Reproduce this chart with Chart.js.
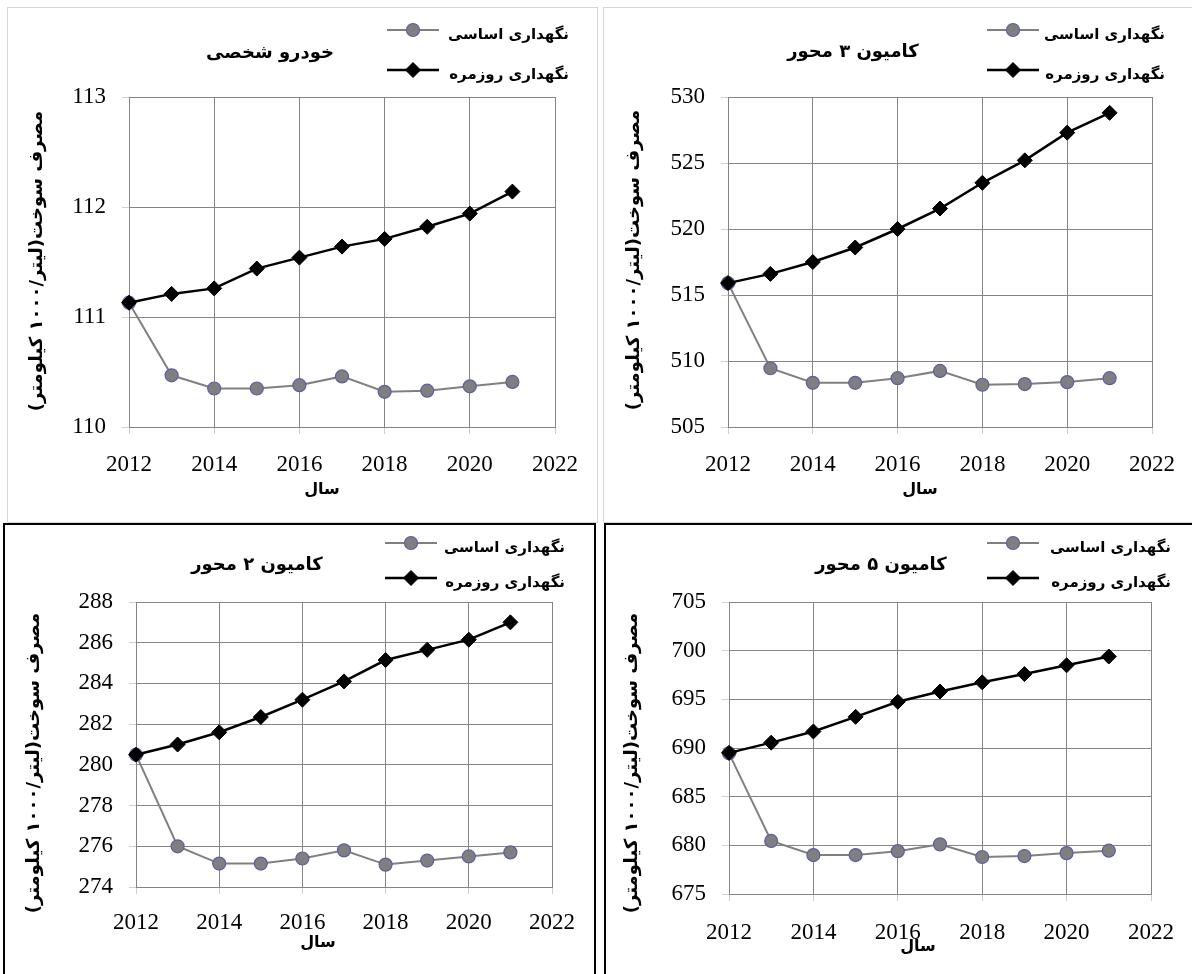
<!DOCTYPE html>
<html>
<head>
<meta charset="utf-8">
<script src="https://cdn.jsdelivr.net/npm/chart.js@4/dist/chart.umd.min.js"></script>
<style>
  body { margin: 0; background: #fff; width: 1192px; height: 974px; overflow: hidden; position: relative; }
  .frame { position: absolute; box-sizing: border-box; }
  .frame.light { border: 1px solid #d6d6d6; }
  .frame.dark { border: 2px solid #000; }
  canvas { position: absolute; }
</style>
</head>
<body>
<div class="frame light" style="left:7px;top:7px;width:591px;height:516px"></div>
<div class="frame light" style="left:603px;top:7px;width:600px;height:516px"></div>
<div class="frame dark" style="left:3px;top:523px;width:593px;height:470px"></div>
<div class="frame dark" style="left:604px;top:523px;width:600px;height:470px"></div>

<canvas id="carChart" width="588" height="513" style="left:8px;top:8px"></canvas>
<canvas id="truck3Chart" width="588" height="513" style="left:604px;top:8px"></canvas>
<canvas id="truck2Chart" width="587" height="448" style="left:6px;top:526px"></canvas>
<canvas id="truck5Chart" width="586" height="448" style="left:606px;top:526px"></canvas>

<script>
// سال ها
const years = [2012, 2013, 2014, 2015, 2016, 2017, 2018, 2019, 2020, 2021];
const yearTicks = [2012, 2014, 2016, 2018, 2020, 2022];

const seriesNames = ["نگهداری اساسی", "نگهداری روزمره"];
const axisTitle = "مصرف سوخت(لیتر/۱۰۰۰ کیلومتر)";
const xTitle = "سال";

// خودرو شخصی
const carBasic = [111.13, 110.47, 110.35, 110.35, 110.38, 110.46, 110.32, 110.33, 110.37, 110.41];
const carRoutine = [111.13, 111.21, 111.26, 111.44, 111.54, 111.64, 111.71, 111.82, 111.94, 112.14];
const carTicks = [110, 111, 112, 113];

// کامیون ۳ محور
const truck3Basic = [515.9, 509.45, 508.35, 508.35, 508.7, 509.25, 508.2, 508.25, 508.4, 508.7];
const truck3Routine = [515.9, 516.6, 517.5, 518.6, 520.0, 521.55, 523.5, 525.2, 527.3, 528.8];
const truck3Ticks = [505, 510, 515, 520, 525, 530];

// کامیون ۲ محور
const truck2Basic = [280.5, 276.0, 275.15, 275.15, 275.4, 275.8, 275.1, 275.3, 275.5, 275.7];
const truck2Routine = [280.5, 281.0, 281.6, 282.35, 283.2, 284.1, 285.15, 285.65, 286.15, 287.0];
const truck2Ticks = [274, 276, 278, 280, 282, 284, 286, 288];

// کامیون ۵ محور
const truck5Basic = [689.45, 680.45, 679.0, 679.0, 679.4, 680.1, 678.8, 678.9, 679.2, 679.45];
const truck5Routine = [689.5, 690.55, 691.7, 693.2, 694.75, 695.8, 696.75, 697.6, 698.5, 699.4];
const truck5Ticks = [675, 680, 685, 690, 695, 700, 705];

const persianFont = '"DejaVu Sans", sans-serif';

// عنوان، راهنما و عنوان محورها
const panelText = {
  id: "panelText",
  afterDraw(chart, args, opts) {
    const ctx = chart.ctx;
    ctx.save();
    ctx.direction = "rtl";
    ctx.fillStyle = "#000";
    ctx.textBaseline = "middle";
    ctx.textAlign = "center";

    ctx.font = "bold 18px " + persianFont;
    ctx.fillText(opts.title, opts.titleX, opts.titleY);

    ctx.font = "bold 16px " + persianFont;
    ctx.fillText(xTitle, opts.xTitleX, opts.xTitleY);

    ctx.save();
    ctx.translate(opts.yTitleX, opts.yTitleY);
    ctx.rotate(-Math.PI / 2);
    ctx.font = "bold 18px " + persianFont;
    ctx.fillText(axisTitle, 0, 0);
    ctx.restore();

    chart.data.datasets.forEach((ds, i) => {
      const y = opts.legendY[i];
      ctx.strokeStyle = ds.borderColor;
      ctx.lineWidth = ds.borderWidth;
      ctx.beginPath();
      ctx.moveTo(opts.legendX, y);
      ctx.lineTo(opts.legendX + 52, y);
      ctx.stroke();
      ctx.fillStyle = ds.pointBackgroundColor;
      ctx.strokeStyle = ds.pointBorderColor;
      ctx.lineWidth = ds.pointBorderWidth;
      Chart.helpers.drawPoint(ctx, {
        pointStyle: ds.pointStyle,
        radius: ds.pointRadius,
        borderWidth: ds.pointBorderWidth,
      }, opts.legendX + 26, y);
      ctx.fillStyle = "#000";
      ctx.textAlign = "right";
      ctx.font = "bold 15px " + persianFont;
      ctx.fillText(ds.label, opts.textRight, y + 5);
    });
    ctx.restore();
  },
};

function makeChart(id, basic, routine, ticks, box, text) {
  const toPoints = (vals) => years.map((yr, i) => ({ x: yr, y: vals[i] }));
  return new Chart(document.getElementById(id), {
    type: "line",
    data: {
      datasets: [
        {
          label: seriesNames[0],
          data: toPoints(basic),
          borderColor: "#808080",
          borderWidth: 2,
          pointStyle: "circle",
          pointRadius: 6.5,
          pointBackgroundColor: "#7f7f7f",
          pointBorderColor: "#5c5ea8",
          pointBorderWidth: 1.2,
          order: 1,
        },
        {
          label: seriesNames[1],
          data: toPoints(routine),
          borderColor: "#000000",
          borderWidth: 2.5,
          pointStyle: "rectRot",
          pointRadius: 7.5,
          pointBackgroundColor: "#000000",
          pointBorderColor: "#000000",
          pointBorderWidth: 1,
          order: 0,
        },
      ],
    },
    options: {
      responsive: false,
      animation: false,
      events: [],
      clip: false,
      layout: {
        padding: { left: 0, top: box.top, right: box.right, bottom: 0 },
      },
      plugins: {
        legend: { display: false },
        tooltip: { enabled: false },
        panelText: text,
      },
      scales: {
        x: {
          type: "linear",
          min: yearTicks[0],
          max: yearTicks[yearTicks.length - 1],
          afterFit: (s) => { s.height = box.xH; },
          ticks: {
            stepSize: yearTicks[1] - yearTicks[0],
            callback: (v) => String(v),
            color: "#000",
            padding: box.xPad,
            maxRotation: 0,
            font: { family: '"Liberation Serif", "Times New Roman", serif', size: 23 },
          },
          grid: { color: "#858585", tickColor: "#cfcfcf", tickLength: 7, lineWidth: 1 },
          border: { color: "#858585", width: 1 },
        },
        y: {
          min: ticks[0],
          max: ticks[ticks.length - 1],
          afterFit: (s) => { s.width = box.yW; },
          ticks: {
            stepSize: ticks[1] - ticks[0],
            callback: (v) => String(v),
            color: "#000",
            padding: 16,
            font: { family: '"Liberation Serif", "Times New Roman", serif', size: 23 },
          },
          grid: { color: "#858585", tickColor: "#cfcfcf", tickLength: 7, lineWidth: 1 },
          border: { color: "#858585", width: 1 },
        },
      },
    },
    plugins: [panelText],
  });
}

makeChart("carChart", carBasic, carRoutine, carTicks,
  { top: 89, right: 41, yW: 121, xH: 94, xPad: 17 },
  { title: "خودرو شخصی", titleX: 262, titleY: 45, legendX: 379, legendY: [22, 62], textRight: 561,
    xTitleX: 314, xTitleY: 482, yTitleX: 29, yTitleY: 253 });

makeChart("truck3Chart", truck3Basic, truck3Routine, truck3Ticks,
  { top: 89, right: 37, yW: 124, xH: 94, xPad: 17 },
  { title: "کامیون ۳ محور", titleX: 249, titleY: 44, legendX: 383, legendY: [22, 62], textRight: 561,
    xTitleX: 316, xTitleY: 482, yTitleX: 30, yTitleY: 252 });

makeChart("truck2Chart", truck2Basic, truck2Routine, truck2Ticks,
  { top: 76, right: 41, yW: 130, xH: 87, xPad: 15 },
  { title: "کامیون ۲ محور", titleX: 251, titleY: 39, legendX: 379, legendY: [17, 52], textRight: 559,
    xTitleX: 312, xTitleY: 417, yTitleX: 28, yTitleY: 237 });

makeChart("truck5Chart", truck5Basic, truck5Routine, truck5Ticks,
  { top: 76, right: 40, yW: 123, xH: 80, xPad: 18 },
  { title: "کامیون ۵ محور", titleX: 275, titleY: 39, legendX: 381, legendY: [17, 52], textRight: 565,
    xTitleX: 312, xTitleY: 421, yTitleX: 26, yTitleY: 237 });
</script>
</body>
</html>
